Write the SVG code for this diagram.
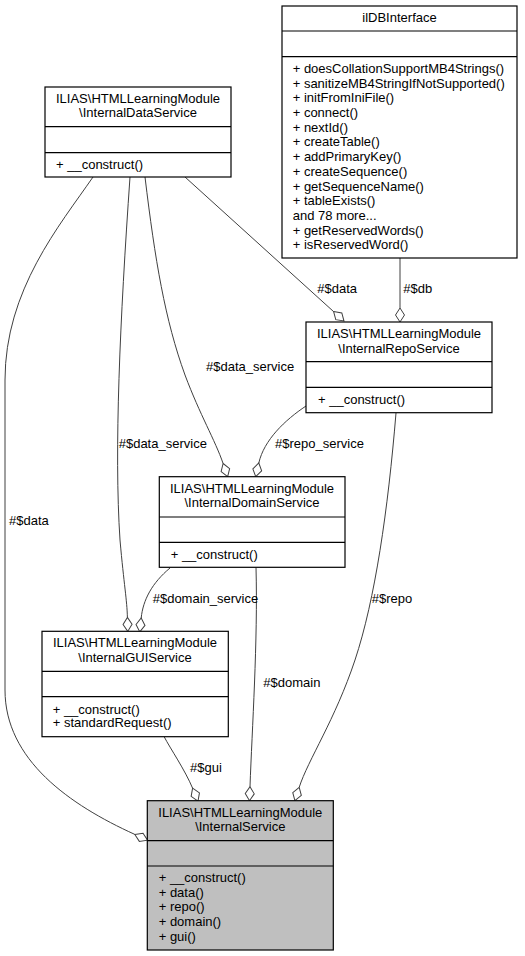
<svg xmlns="http://www.w3.org/2000/svg" width="525" height="956" viewBox="0 0 525 956">
<style>
text { font-family: "Liberation Sans", Arial, sans-serif; font-size: 13px; fill: #000; }
.t { text-anchor: middle; }
.box { fill: #fff; stroke: #000; stroke-width: 1.2; }
.sel { fill: #bfbfbf; stroke: #000; stroke-width: 1.2; }
.div { stroke: #000; stroke-width: 1.2; fill: none; }
.e { fill: none; stroke: #404040; stroke-width: 1; marker-end: url(#od); }
</style>
<defs>
<marker id="od" markerUnits="userSpaceOnUse" markerWidth="16" markerHeight="12" refX="0" refY="5" orient="auto" viewBox="-1 0 16 10" overflow="visible">
<path d="M0,5 L7,0.5 L14,5 L7,9.5 Z" fill="#fff" stroke="#404040" stroke-width="1"/>
</marker>
</defs>
<g id="connectors">
<path class="e" d="M400,258 L400,308"/>
<path class="e" d="M185,177 L333.6,311.6"/>
<path class="e" d="M93,177 C60,225 5,290 5,380 L5,690 C5,760 70,805 134.8,834.4"/>
<path class="e" d="M130,177 C120,320 114,450 120,540 C124,585 127,600 127.4,617.4"/>
<path class="e" d="M145,177 C155,260 165,320 185,375 C200,415 215,440 223.1,463.5"/>
<path class="e" d="M306,406 C285,420 264,440 258.8,463"/>
<path class="e" d="M396,413 C388,510 375,600 355,660 C335,720 308,760 299.2,787.3"/>
<path class="e" d="M170,568 C152,583 143,600 141.2,618"/>
<path class="e" d="M256,567.3 C258,640 252,730 250,786.7"/>
<path class="e" d="M164.3,737 C170,748 185,770 192.6,788.2"/>
<text x="9" y="525.2">#$data</text>
<text x="118.7" y="447.8">#$data_service</text>
<text x="206" y="371.2">#$data_service</text>
<text x="317.3" y="292.8">#$data</text>
<text x="403.3" y="292.8">#$db</text>
<text x="275" y="447.8">#$repo_service</text>
<text x="371.7" y="602.8">#$repo</text>
<text x="152.7" y="602.8">#$domain_service</text>
<text x="263.3" y="686.8">#$domain</text>
<text x="190" y="772.2">#$gui</text>
</g>
<g id="ilDBInterface">
<rect class="box" x="282" y="6" width="235" height="252"/>
<line class="div" x1="282" y1="31" x2="517" y2="31"/>
<line class="div" x1="282" y1="56.7" x2="517" y2="56.7"/>
<text class="t" x="399.5" y="21.8">ilDBInterface</text>
<text x="292.7" y="72.8">+ doesCollationSupportMB4Strings()</text>
<text x="292.7" y="87.5">+ sanitizeMB4StringIfNotSupported()</text>
<text x="292.7" y="102.2">+ initFromIniFile()</text>
<text x="292.7" y="117">+ connect()</text>
<text x="292.7" y="131.7">+ nextId()</text>
<text x="292.7" y="146.4">+ createTable()</text>
<text x="292.7" y="161.1">+ addPrimaryKey()</text>
<text x="292.7" y="175.8">+ createSequence()</text>
<text x="292.7" y="190.6">+ getSequenceName()</text>
<text x="292.7" y="205.3">+ tableExists()</text>
<text x="292.7" y="220">and 78 more...</text>
<text x="292.7" y="234.7">+ getReservedWords()</text>
<text x="292.7" y="249.4">+ isReservedWord()</text>
</g>
<g id="InternalDataService">
<rect class="box" x="45" y="87" width="186" height="90"/>
<line class="div" x1="45" y1="126.7" x2="231" y2="126.7"/>
<line class="div" x1="45" y1="152.7" x2="231" y2="152.7"/>
<text class="t" x="138" y="103.2">ILIAS\HTMLLearningModule</text>
<text class="t" x="138" y="116.8">\InternalDataService</text>
<text x="56" y="168.5">+ __construct()</text>
</g>
<g id="InternalRepoService">
<rect class="box" x="306" y="322" width="186" height="90.7"/>
<line class="div" x1="306" y1="361.7" x2="492" y2="361.7"/>
<line class="div" x1="306" y1="387.3" x2="492" y2="387.3"/>
<text class="t" x="399" y="337.8">ILIAS\HTMLLearningModule</text>
<text class="t" x="399" y="352.8">\InternalRepoService</text>
<text x="318" y="403.5">+ __construct()</text>
</g>
<g id="InternalDomainService">
<rect class="box" x="159.3" y="476.7" width="185.7" height="90.6"/>
<line class="div" x1="159.3" y1="517" x2="345" y2="517"/>
<line class="div" x1="159.3" y1="542.3" x2="345" y2="542.3"/>
<text class="t" x="252" y="492.8">ILIAS\HTMLLearningModule</text>
<text class="t" x="252" y="506.8">\InternalDomainService</text>
<text x="170.7" y="558.5">+ __construct()</text>
</g>
<g id="InternalGUIService">
<rect class="box" x="42" y="631.3" width="186.3" height="105.4"/>
<line class="div" x1="42" y1="671.3" x2="228.3" y2="671.3"/>
<line class="div" x1="42" y1="696.7" x2="228.3" y2="696.7"/>
<text class="t" x="135" y="647.2">ILIAS\HTMLLearningModule</text>
<text class="t" x="135" y="661.8">\InternalGUIService</text>
<text x="52.7" y="713.5">+ __construct()</text>
<text x="52.7" y="727.2">+ standardRequest()</text>
</g>
<g id="InternalService">
<rect class="sel" x="147.3" y="800.7" width="186" height="149.3"/>
<line class="div" x1="147.3" y1="840.7" x2="333.3" y2="840.7"/>
<line class="div" x1="147.3" y1="866" x2="333.3" y2="866"/>
<text class="t" x="240.3" y="817.2">ILIAS\HTMLLearningModule</text>
<text class="t" x="240.3" y="831.2">\InternalService</text>
<text x="158.7" y="882.2">+ __construct()</text>
<text x="158.7" y="896.8">+ data()</text>
<text x="158.7" y="911.4">+ repo()</text>
<text x="158.7" y="926">+ domain()</text>
<text x="158.7" y="940.6">+ gui()</text>
</g>
</svg>
